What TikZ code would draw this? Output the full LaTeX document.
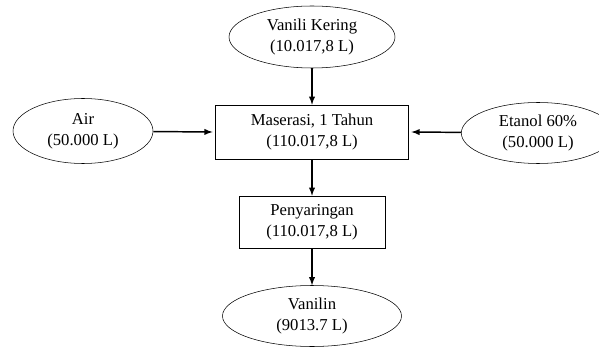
\documentclass[tikz,border=0pt]{standalone}
\usepackage{fontspec}
\setmainfont{Liberation Serif}
\usetikzlibrary{arrows,shapes.geometric}

\begin{document}
\begin{tikzpicture}
    [x=0.75pt,y=-0.75pt,
      font=\fontsize{12.5}{15.75}\selectfont,
      feed/.style={ellipse,draw=black,thin,align=center,inner sep=0pt},
      unit/.style={rectangle,draw=black,thin,align=center,inner sep=0pt},
      flow/.style={line width=1.1pt,-latex}
    ]
    \useasboundingbox (0,0) rectangle (599,349);

    \node [feed,minimum width=124.5pt,minimum height=46.5pt] (vanili) at (312,37)
      {Vanili Kering\\(10.017,8 L)};
    \node [feed,minimum width=105pt,minimum height=48.75pt] (air) at (83,131)
      {Air\\(50.000 L)};
    \node [feed,minimum width=115pt,minimum height=45.75pt] (etanol) at (538,133)
      {Etanol 60\%\\(50.000 L)};

    \node [unit,minimum width=144.75pt,minimum height=40.5pt] (maserasi) at (312,132)
      {Maserasi, 1 Tahun\\(110.017,8 L)};
    \node [unit,minimum width=109.5pt,minimum height=39pt] (saring) at (312,222)
      {Penyaringan\\(110.017,8 L)};

    \node [feed,minimum width=134.25pt,minimum height=45.75pt] (vanilin) at (312,316)
      {Vanilin\\(9013.7 L)};

    \draw [flow] (vanili) -- (maserasi);
    \draw [flow] (air) -- ([xshift=-2pt]maserasi.west);
    \draw [flow] (etanol) -- ([xshift=2pt]maserasi.east);
    \draw [flow] (maserasi) -- (saring);
    \draw [flow] (saring) -- (vanilin);
  \end{tikzpicture}
\end{document}
